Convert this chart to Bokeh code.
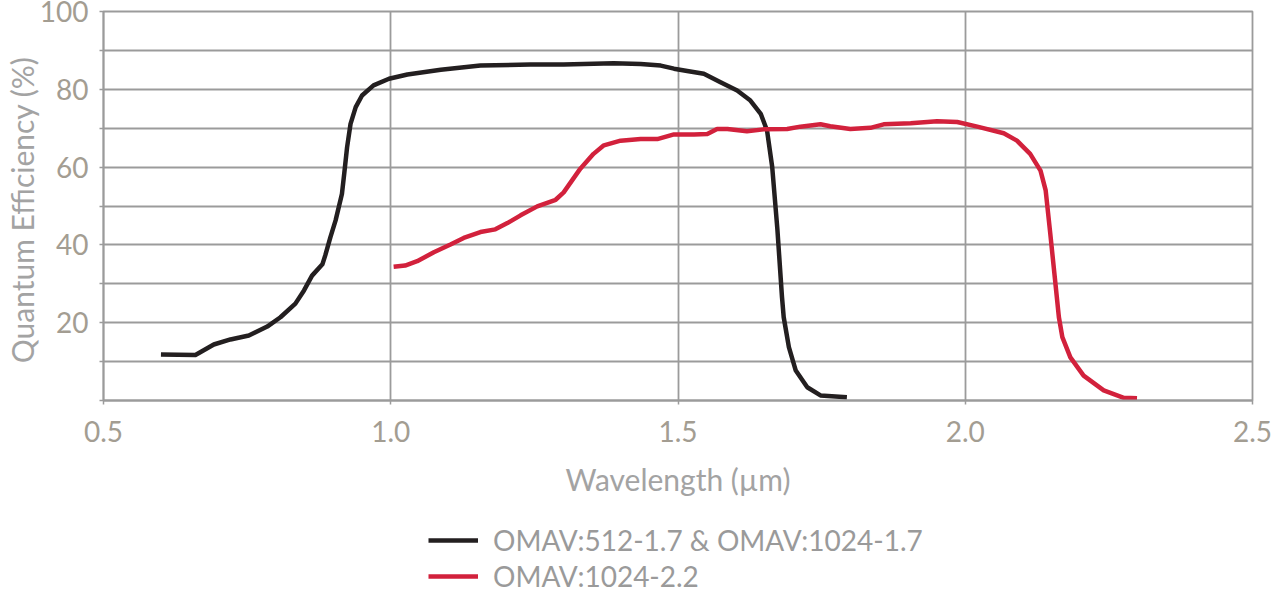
from bokeh.plotting import figure
from bokeh.models import Legend, LegendItem, FixedTicker, Range1d
from bokeh.layouts import column
from bokeh.embed import file_html
from bokeh.resources import INLINE

# Data
black_wl = [0.600, 0.660, 0.692, 0.721, 0.753, 0.785, 0.808, 0.834, 0.849, 0.863, 0.881, 0.886,
            0.895, 0.904, 0.915, 0.919, 0.924, 0.930, 0.939, 0.950, 0.970, 0.997, 1.029, 1.087,
            1.156, 1.243, 1.301, 1.388, 1.435, 1.470, 1.493, 1.516, 1.545, 1.574, 1.603, 1.626,
            1.644, 1.655, 1.664, 1.673, 1.681, 1.684, 1.693, 1.705, 1.725, 1.748, 1.794]
black_qe = [11.8, 11.7, 14.4, 15.7, 16.7, 19.0, 21.4, 24.9, 28.3, 32.1, 35.0, 37.3,
            42.0, 46.3, 53.1, 58.3, 65.1, 71.1, 75.4, 78.4, 81.0, 82.7, 83.8, 85.0,
            86.1, 86.4, 86.4, 86.7, 86.5, 86.1, 85.3, 84.7, 84.0, 81.8, 79.7, 77.1,
            73.7, 69.4, 60.0, 44.0, 26.6, 21.4, 13.7, 7.7, 3.4, 1.3, 0.85]

red_wl = [1.005, 1.025, 1.046, 1.075, 1.104, 1.127, 1.156, 1.182, 1.203, 1.226, 1.255, 1.287,
          1.301, 1.330, 1.353, 1.371, 1.400, 1.435, 1.464, 1.493, 1.528, 1.551, 1.568, 1.586,
          1.620, 1.649, 1.690, 1.713, 1.748, 1.765, 1.800, 1.835, 1.858, 1.905, 1.951, 1.986,
          2.021, 2.067, 2.090, 2.113, 2.131, 2.140, 2.148, 2.157, 2.163, 2.169, 2.183, 2.206,
          2.241, 2.276, 2.299]
red_qe = [34.4, 34.7, 35.8, 38.1, 40.1, 41.8, 43.3, 44.0, 45.6, 47.6, 49.9, 51.6,
          53.5, 59.6, 63.4, 65.6, 66.8, 67.2, 67.2, 68.4, 68.4, 68.5, 69.8, 69.8,
          69.2, 69.7, 69.8, 70.4, 71.0, 70.5, 69.8, 70.1, 71.0, 71.3, 71.8, 71.6,
          70.4, 68.7, 66.8, 63.4, 59.1, 54.0, 42.9, 30.0, 21.4, 16.3, 11.1, 6.4,
          2.6, 0.7, 0.6]

series_names = ["OMAV:512-1.7 & OMAV:1024-1.7", "OMAV:1024-2.2"]
series_colors = ["#231f20", "#d2213c"]
x_ticks = [0.5, 1.0, 1.5, 2.0, 2.5]
x_tick_labels = ["0.5", "1.0", "1.5", "2.0", "2.5"]
y_ticks = [0, 10, 20, 30, 40, 50, 60, 70, 80, 90, 100]
y_labeled = [20, 40, 60, 80, 100]

FONT = "Lato"
GRID = "#9b9b9b"
TICKC = "#a39d92"
LABC = "#a3a3a3"

p = figure(width=1285, height=504, output_backend="svg", toolbar_location=None,
           x_range=Range1d(0.5, 2.5), y_range=Range1d(0, 100),
           min_border_left=103, min_border_right=33, min_border_top=11, min_border_bottom=104)

p.outline_line_color = GRID
p.outline_line_width = 1.8
p.background_fill_color = "white"
p.border_fill_color = "white"

for ax in (p.xaxis[0], p.yaxis[0]):
    ax.axis_line_color = GRID
    ax.axis_line_width = 1.8
    ax.major_tick_line_color = GRID
    ax.major_tick_line_width = 1.5
    ax.major_tick_in = 0
    ax.major_tick_out = 4
    ax.minor_tick_line_color = None
    ax.major_label_text_color = TICKC
    ax.major_label_text_font = FONT
    ax.major_label_text_font_size = "28px"
    ax.axis_label_text_color = LABC
    ax.axis_label_text_font = FONT
    ax.axis_label_text_font_size = "30px"
    ax.axis_label_text_font_style = "normal"

p.xaxis.ticker = FixedTicker(ticks=x_ticks)
p.xaxis.major_label_overrides = {t: l for t, l in zip(x_ticks, x_tick_labels)}
p.xaxis.major_label_standoff = 16
p.xaxis.axis_label = "Wavelength (µm)"
p.xaxis.axis_label_standoff = 16

p.yaxis.ticker = FixedTicker(ticks=y_ticks)
p.yaxis.major_label_overrides = {t: (str(t) if t in y_labeled else "") for t in y_ticks}
p.yaxis.major_label_standoff = 11
p.yaxis.axis_label = "Quantum Efficiency  (%)"
p.yaxis.axis_label_standoff = -3

p.xgrid.ticker = FixedTicker(ticks=x_ticks)
p.ygrid.ticker = FixedTicker(ticks=y_ticks)
for g in (p.xgrid[0], p.ygrid[0]):
    g.grid_line_color = GRID
    g.grid_line_width = 1.8

r1 = p.line(black_wl, black_qe, line_color=series_colors[0], line_width=4.5, line_join="round")
r2 = p.line(red_wl, red_qe, line_color=series_colors[1], line_width=4.5, line_join="round")

# Legend strip below the chart (its lines use the same data, kept out of view)
q = figure(width=1285, height=90, output_backend="svg", toolbar_location=None,
           x_range=Range1d(0, 1), y_range=Range1d(500, 600),
           x_axis_type=None, y_axis_type=None, min_border=0)
q.outline_line_color = None
q.xgrid.visible = False
q.ygrid.visible = False
q.background_fill_color = "white"
q.border_fill_color = "white"
k1 = q.line(black_wl, black_qe, line_color=series_colors[0], line_width=4.5)
k2 = q.line(red_wl, red_qe, line_color=series_colors[1], line_width=4.5)

legend = Legend(items=[LegendItem(label=series_names[0], renderers=[k1]),
                       LegendItem(label=series_names[1], renderers=[k2])],
                location=(325, 0), orientation="vertical",
                label_text_font=FONT, label_text_font_size="28px", label_text_color="#9a9a9a",
                glyph_width=50, glyph_height=36, spacing=0, label_standoff=15,
                padding=0, margin=0, border_line_color=None, background_fill_alpha=0)
q.add_layout(legend, "center")

open("out.html", "w").write(file_html(column(p, q, spacing=0), INLINE))
